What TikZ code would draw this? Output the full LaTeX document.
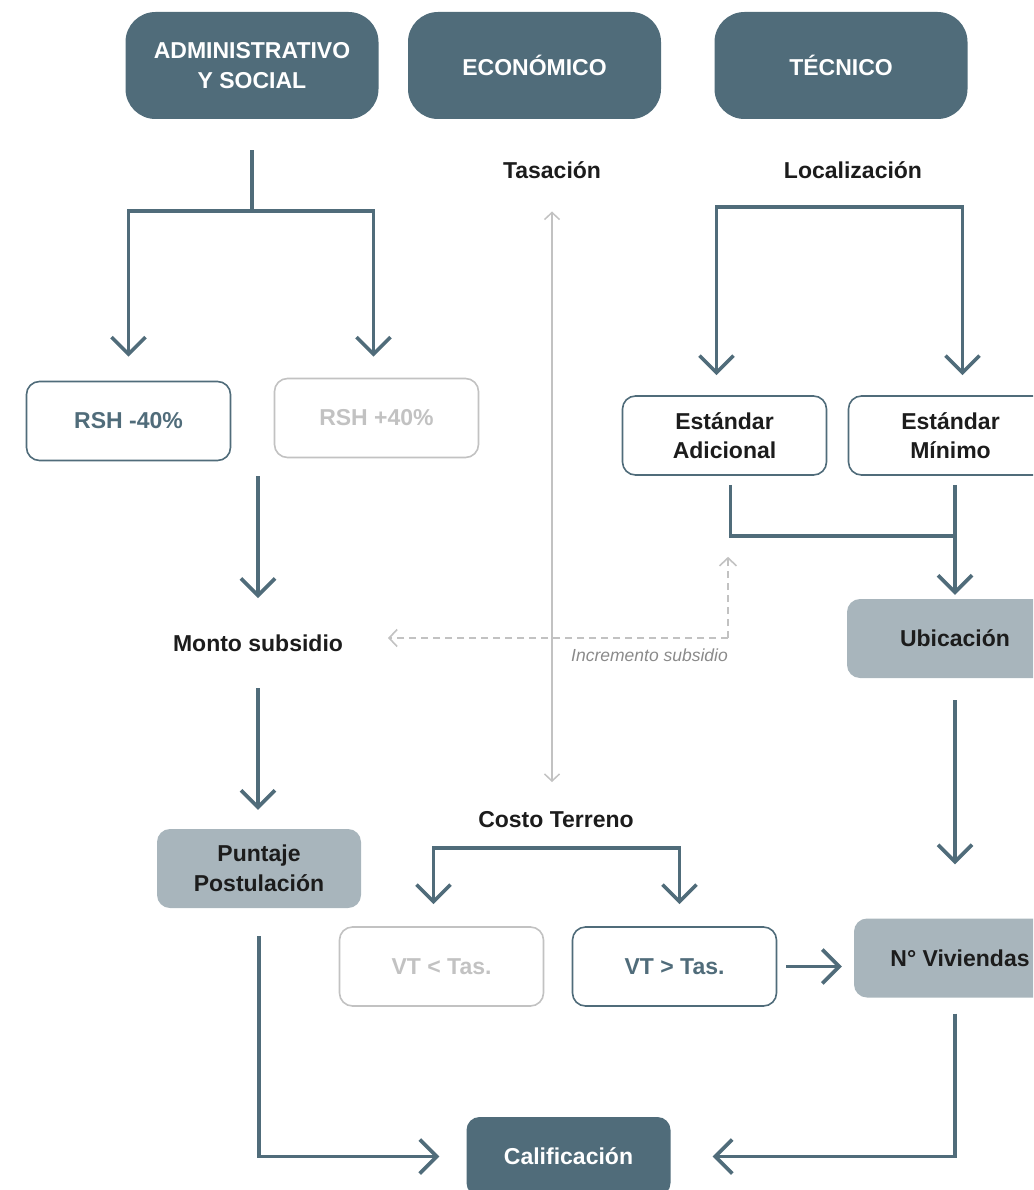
\documentclass[tikz,border=0pt]{standalone}
\usepackage{fontspec}
\setmainfont{Liberation Sans}
\usetikzlibrary{arrows.meta}
\definecolor{pizarra}{HTML}{506C7A}
\definecolor{grisazul}{HTML}{A8B5BC}
\definecolor{grisclaro}{HTML}{C2C2C2}
\definecolor{tinta}{HTML}{1C1C1C}
\definecolor{grisnota}{HTML}{8A8A8A}
\newcommand{\letra}{\fontsize{23}{29.5}\selectfont\bfseries}
\tikzset{
  cabecera/.style  = {rectangle, rounded corners=30pt, fill=pizarra, text=white, minimum width=253pt, minimum height=107pt, align=center, font=\letra},
  opcion/.style    = {rectangle, rounded corners=13pt, draw=pizarra, line width=1.6pt, fill=white, text=pizarra, minimum width=204pt, minimum height=79pt, align=center, font=\letra},
  opcionn/.style   = {opcion, text=tinta},
  descarte/.style  = {opcion, draw=grisclaro, text=grisclaro},
  resultado/.style = {rectangle, rounded corners=13pt, fill=grisazul, text=tinta, minimum width=204pt, minimum height=79pt, align=center, font=\letra},
  final/.style     = {resultado, fill=pizarra, text=white},
  rotulo/.style    = {text=tinta, font=\letra, inner sep=0, anchor=base},
  nota/.style      = {text=grisnota, font=\fontsize{17.5}{20}\selectfont\itshape, inner sep=0},
  linea/.style     = {draw=pizarra, line width=3.6pt},
  flujo/.style     = {linea, -{Straight Barb[length=17pt, width=34pt]}},
  tenue/.style     = {draw=grisclaro, line width=1.5pt, {Straight Barb[length=7pt, width=15pt]}-{Straight Barb[length=7pt, width=15pt]}},
  discont/.style   = {draw=grisclaro, line width=1.6pt, dash pattern=on 7pt off 5pt, -{Straight Barb[length=8pt, width=17pt]}}
}

\begin{document}
\begin{tikzpicture}[x=1pt, y=-1pt]
  \useasboundingbox (0,0) rectangle (1033,1190);
  \clip (0,0) rectangle (1033,1190);

  % cabeceras
  \node[cabecera] (adm) at (252,65.5)  {ADMINISTRATIVO\\Y SOCIAL};
  \node[cabecera] (eco) at (534.5,65.5) {ECONÓMICO};
  \node[cabecera] (tec) at (841,65.5)  {TÉCNICO};

  % rama administrativa
  \node[opcion]   (rsha)  at (128.5,421) {RSH -40\%};
  \node[descarte] (rshb)  at (376.5,418) {RSH +40\%};
  \node[rotulo]   (monto) at (258,651)   {Monto subsidio};
  \node[resultado] (punt) at (259,868.5) {Puntaje\\Postulación};
  \coordinate (bifA) at (252,211);
  \draw[linea, shorten <=31pt] (adm.south) -- (bifA);
  \draw[flujo, shorten >=24pt] (bifA) -| (rsha.north);
  \draw[flujo, shorten >=21pt] (bifA) -| ([xshift=-3pt]rshb.north);
  \draw[flujo, shorten <=15pt, shorten >=53pt] (monto.base |- rsha.south) -- (monto.base);
  \draw[flujo, shorten <=37pt, shorten >=19pt] (monto.base) -- (monto.base |- punt.north);

  % rama economica
  \node[rotulo]   (tas)   at (552,178.5) {Tasación};
  \node[rotulo]   (costo) at (556,827)   {Costo Terreno};
  \node[descarte] (vtmen) at (441.5,966.5) {VT < Tas.};
  \node[opcion]   (vtmay) at (674.5,966.5) {VT > Tas.};
  \draw[tenue, shorten <=33pt, shorten >=45pt] (tas.base) -- (tas.base |- costo.base);
  \coordinate (bifC) at (556,848);
  \draw[flujo, shorten >=22pt] (bifC) -| ([xshift=-8pt]vtmen.north);
  \draw[flujo, shorten >=22pt] (bifC) -| ([xshift=5pt]vtmay.north);

  % rama tecnica
  \node[rotulo]  (loc)    at (853,178.5) {Localización};
  \node[opcionn] (estad)  at (724.5,435.5) {Estándar\\Adicional};
  \node[opcionn] (estmin) at (950.5,435.5) {Estándar\\Mínimo};
  \node[resultado, minimum width=216pt] (ubic) at (955,638.5) {Ubicación};
  \node[resultado, minimum width=212pt] (viv)  at (960,958)   {N° Viviendas};
  \node[final] (calif) at (568.5,1156.5) {Calificación};
  \coordinate (bifL) at (839,207);
  \draw[flujo, shorten >=20pt] (bifL) -| ([xshift=-8pt]estad.north);
  \draw[flujo, shorten >=20pt] (bifL) -| ([xshift=12pt]estmin.north);
  \coordinate (junE) at (955,536);
  \draw[linea, shorten <=9pt] ([xshift=6pt]estad.south) |- (junE);
  \draw[flujo, shorten <=9pt, shorten >=4pt] ([xshift=4.5pt]estmin.south) -- (ubic.north);
  \draw[flujo, shorten <=22pt, shorten >=54pt] (ubic.south) -- (ubic.south |- viv.north);
  \draw[flujo, shorten <=9pt, shorten >=12pt] (vtmay.east) -- (viv.west |- vtmay.east);

  % calificacion
  \draw[flujo, shorten <=28pt, shorten >=27pt] (punt.south) |- (calif.west);
  \draw[flujo, shorten <=16pt, shorten >=42pt] (ubic.south |- viv.south) |- (calif.east);

  % incremento subsidio
  \coordinate (dq) at (728,638);
  \draw[discont, shorten >=81pt] (dq) -- ([xshift=3.5pt]estad.south);
  \draw[discont, shorten >=130pt] (dq) -- (monto.base |- dq);
  \node[nota, anchor=base east] (incr) at (728,661) {Incremento subsidio};
\end{tikzpicture}
\end{document}
